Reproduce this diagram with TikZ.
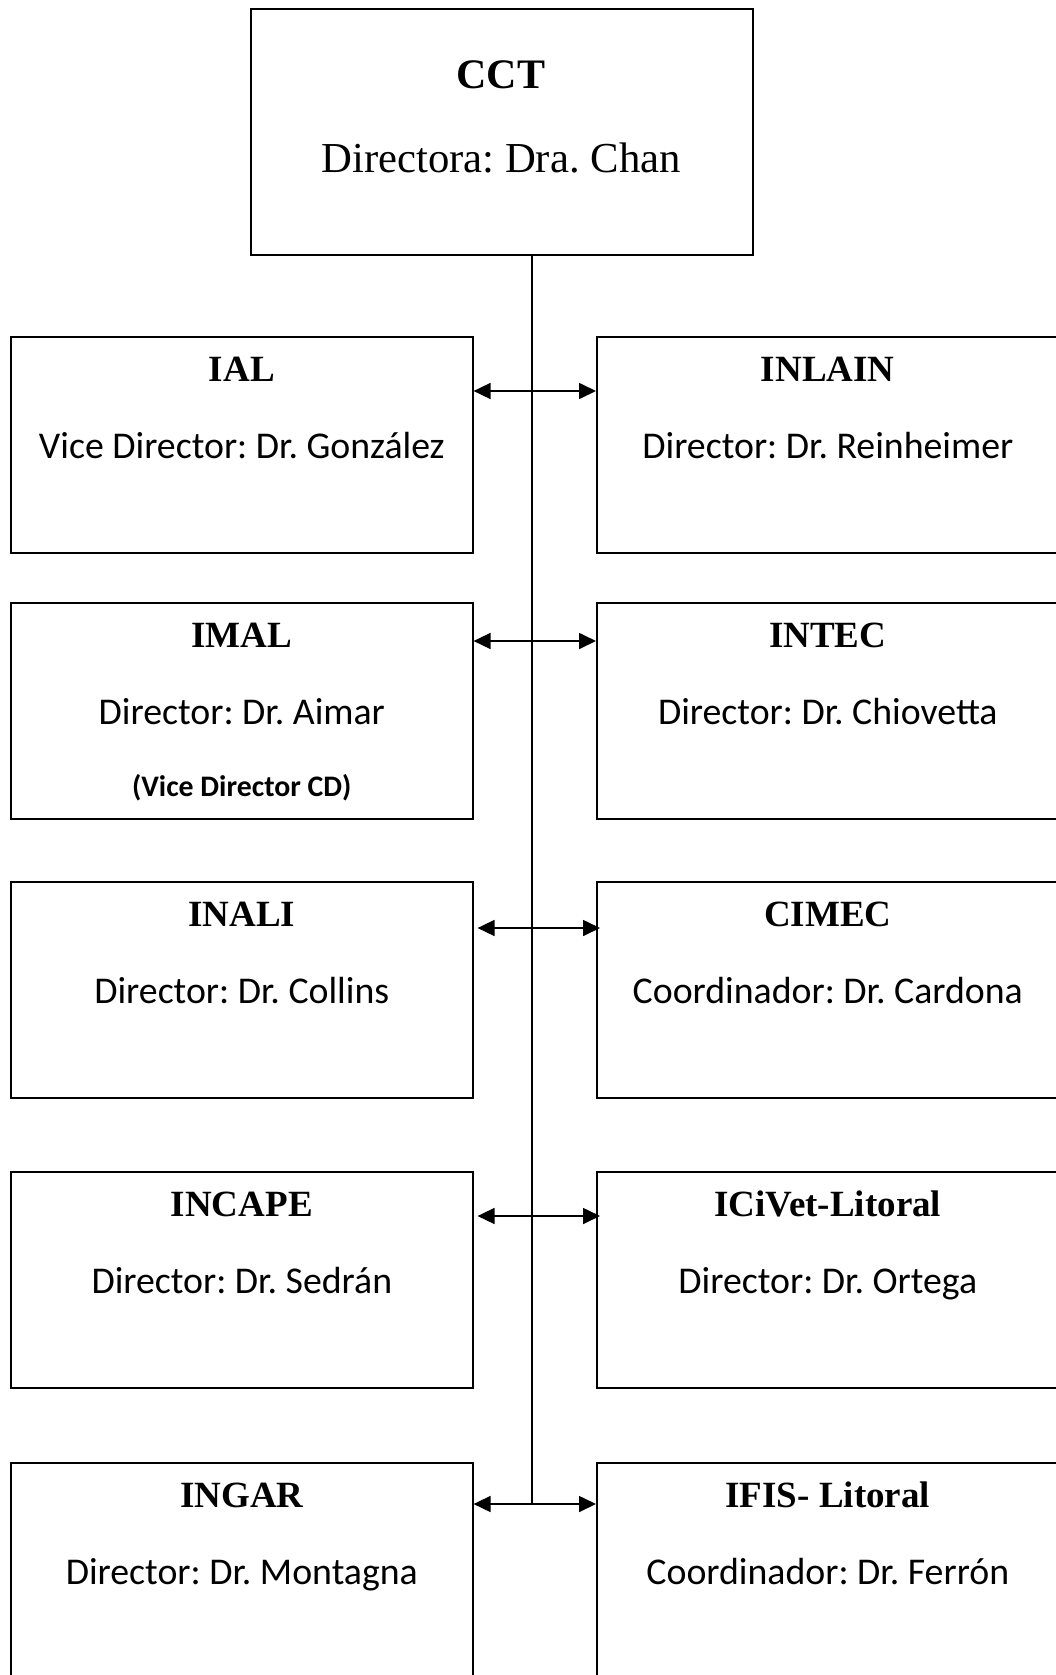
\documentclass[tikz,border=0pt]{standalone}
\usepackage{fontspec}
\setmainfont{Liberation Serif}
\newfontfamily\calfont{Carlito}
\usetikzlibrary{arrows.meta}
\frenchspacing
\tikzset{
  box/.style={draw, line width=1.6pt, minimum width=462pt, minimum height=216pt, anchor=north west, inner sep=0pt},
  ttl/.style={anchor=base, inner sep=0pt, font=\fontsize{37}{40}\selectfont\bfseries},
  bod/.style={anchor=base, inner sep=0pt, font=\calfont\fontsize{37.8}{40}\selectfont},
  sml/.style={anchor=base, inner sep=0pt, font=\calfont\fontsize{29.8}{33}\selectfont\bfseries},
  arr/.style={{Triangle[length=17pt,width=16pt]}-{Triangle[length=17pt,width=16pt]}, line width=1.7pt},
  trunk/.style={line width=1.7pt}
}
\begin{document}
\frenchspacing
\begin{tikzpicture}[x=1pt,y=1pt]
\clip (0,0) rectangle (1056,-1675);
\fill[white] (0,0) rectangle (1056,-1675);
% CCT
\node[draw, line width=1.6pt, minimum width=502pt, minimum height=246pt, anchor=north west, inner sep=0pt] (cct) at (250,-8) {};
\node[anchor=base, inner sep=0pt, font=\fontsize{42}{46}\selectfont\bfseries] (cctt) at (501,-89) {CCT};
\node[anchor=base, inner sep=0pt, font=\fontsize{42.7}{46}\selectfont] (cctb) at (501,-172) {Directora: Dra. Chan};
% boxes
\node[box] (ial) at (10,-336) {};
\node[box] (inlain) at (596,-336) {};
\node[box] (imal) at (10,-602) {};
\node[box] (intec) at (596,-602) {};
\node[box] (inali) at (10,-881) {};
\node[box] (cimec) at (596,-881) {};
\node[box] (incape) at (10,-1171) {};
\node[box] (icivet) at (596,-1171) {};
\node[box] (ingar) at (10,-1462) {};
\node[box] (ifis) at (596,-1462) {};
% texts
\node[ttl] (t1) at ([yshift=-45pt]ial.north) {IAL};
\node[bod] (b1) at ([yshift=-122pt]ial.north) {Vice Director: Dr. González};
\node[ttl] (t2) at ([yshift=-45pt]inlain.north) {INLAIN};
\node[bod] (b2) at ([yshift=-122pt]inlain.north) {Director: Dr. Reinheimer};
\node[ttl] (t3) at ([yshift=-45pt]imal.north) {IMAL};
\node[bod] (b3) at ([yshift=-122pt]imal.north) {Director: Dr. Aimar};
\node[sml] (v3) at ([yshift=-194pt]imal.north) {(Vice Director CD)};
\node[ttl] (t4) at ([yshift=-45pt]intec.north) {INTEC};
\node[bod] (b4) at ([yshift=-122pt]intec.north) {Director: Dr. Chiovetta};
\node[ttl] (t5) at ([yshift=-45pt]inali.north) {INALI};
\node[bod] (b5) at ([yshift=-122pt]inali.north) {Director: Dr. Collins};
\node[ttl] (t6) at ([yshift=-45pt]cimec.north) {CIMEC};
\node[bod] (b6) at ([yshift=-122pt]cimec.north) {Coordinador: Dr. Cardona};
\node[ttl] (t7) at ([yshift=-45pt]incape.north) {INCAPE};
\node[bod] (b7) at ([yshift=-122pt]incape.north) {Director: Dr. Sedrán};
\node[ttl] (t8) at ([yshift=-45pt]icivet.north) {ICiVet-Litoral};
\node[bod] (b8) at ([yshift=-122pt]icivet.north) {Director: Dr. Ortega};
\node[ttl] (t9) at ([yshift=-45pt]ingar.north) {INGAR};
\node[bod] (b9) at ([yshift=-122pt]ingar.north) {Director: Dr. Montagna};
\node[ttl] (t10) at ([yshift=-45pt]ifis.north) {IFIS- Litoral};
\node[bod] (b10) at ([yshift=-122pt]ifis.north) {Coordinador: Dr. Ferrón};
% connectors
\coordinate (vx) at (532,-254);
\coordinate (a1) at (532,-391);
\coordinate (a2) at (532,-641);
\coordinate (a3) at (532,-928);
\coordinate (a4) at (532,-1216);
\coordinate (a5) at (532,-1504);
\draw[trunk] (cct.south -| vx) -- (a5);
\draw[arr] (ial.east |- a1) -- (inlain.west |- a1);
\draw[arr] (imal.east |- a2) -- (intec.west |- a2);
\draw[arr] ([xshift=4pt]inali.east |- a3) -- ([xshift=4pt]cimec.west |- a3);
\draw[arr] ([xshift=4pt]incape.east |- a4) -- ([xshift=4pt]icivet.west |- a4);
\draw[arr] (ingar.east |- a5) -- (ifis.west |- a5);
\end{tikzpicture}
\end{document}
